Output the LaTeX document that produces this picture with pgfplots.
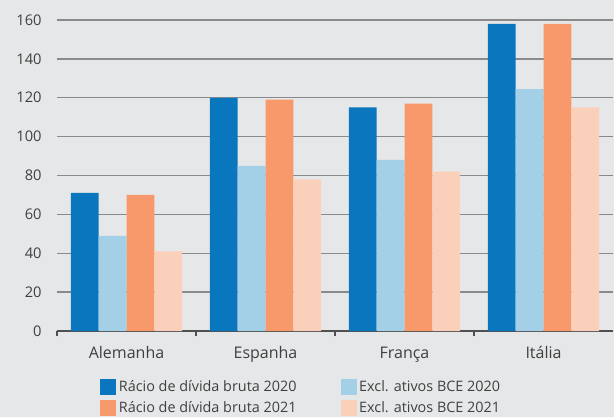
\documentclass[border=0pt]{standalone}
\usepackage{pgfplots}
\pgfplotsset{compat=1.18}
\usepackage{fontspec}
\setmainfont{Open Sans}
\definecolor{bg}{HTML}{E6E7E8}
\definecolor{gridgray}{HTML}{8A8A8C}
\definecolor{axisgray}{HTML}{505050}
\definecolor{txt}{HTML}{404040}
\definecolor{c1}{HTML}{0A76BE}
\definecolor{c2}{HTML}{A3CFE7}
\definecolor{c3}{HTML}{F7996B}
\definecolor{c4}{HTML}{FBD0BB}

\pgfplotsset{sq/.style={legend image code/.code={\fill[##1] (-4pt,-6pt) rectangle (8pt,6pt);}}}

\begin{document}
\begin{tikzpicture}
\fill[bg] (0pt,0pt) rectangle (460.5pt,312.75pt);
\begin{axis}[
 at={(42.75pt,64.5pt)}, anchor=south west,
 scale only axis, width=417pt, height=233.25pt,
 xmin=-0.5, xmax=3.5, ymin=0, ymax=160,
 ytick={0,20,...,160},
 xtick={0,1,2,3},
 xticklabels={Alemanha,Espanha,França,Itália},
 minor xtick={-0.5,0.5,1.5,2.5},
 ymajorgrids, grid style={draw=gridgray, line width=1.1pt},
 axis x line*=bottom, axis y line*=left,
 y axis line style={draw=none},
 x axis line style={draw=axisgray, line width=1.1pt, -},
 major tick style={draw=none},
 minor tick length=4pt, tick align=inside,
 minor x tick style={draw=axisgray, line width=1pt},
 yticklabel style={font=\fontsize{11}{13}\selectfont, text=txt, xshift=-8pt},
 xticklabel style={font=\fontsize{12}{14}\selectfont, text=txt, yshift=-4pt},
 /pgf/number format/assume math mode=true,
 ybar, bar width=0.2,
 legend style={at={(0.070,-0.14)}, anchor=north west, draw=none, fill=none,
  legend columns=2, font=\fontsize{10.8}{12}\selectfont, text=txt,
  /tikz/every even column/.append style={column sep=31pt},
  row sep=2pt},
 legend cell align=left,
]
\addplot[sq, fill=c1, draw=none, bar shift=-0.3] coordinates {(0,71) (1,120) (2,115) (3,158)};
\addlegendentry{Rácio de dívida bruta 2020}
\addplot[sq, fill=c2, draw=none, bar shift=-0.1] coordinates {(0,49) (1,85) (2,88) (3,124.5)};
\addlegendentry{Excl. ativos BCE 2020}
\addplot[sq, fill=c3, draw=none, bar shift=0.1] coordinates {(0,70) (1,119) (2,117) (3,158)};
\addlegendentry{Rácio de dívida bruta 2021}
\addplot[sq, fill=c4, draw=none, bar shift=0.3] coordinates {(0,41) (1,78) (2,82) (3,115)};
\addlegendentry{Excl. ativos BCE 2021}
\end{axis}
\end{tikzpicture}
\end{document}
